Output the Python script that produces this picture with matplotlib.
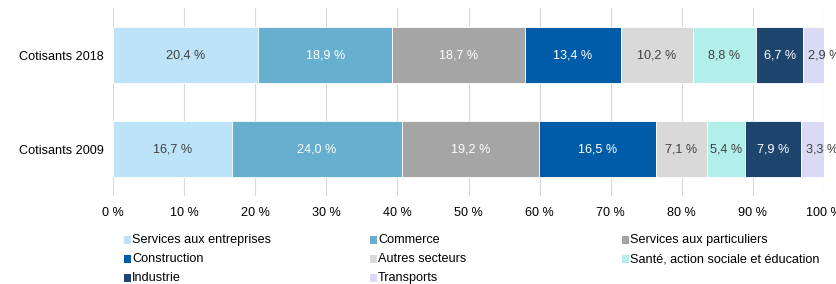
import matplotlib
matplotlib.use("Agg")
import matplotlib.pyplot as plt
from matplotlib.patches import Rectangle

plt.rcParams['font.family'] = ['Liberation Sans', 'DejaVu Sans']

categories = ["Cotisants 2018", "Cotisants 2009"]
sectors = ["Services aux entreprises", "Commerce", "Services aux particuliers",
           "Construction", "Autres secteurs", "Santé, action sociale et éducation",
           "Industrie", "Transports"]
values_2018 = [20.4, 18.9, 18.7, 13.4, 10.2, 8.8, 6.7, 2.9]
values_2009 = [16.7, 24.0, 19.2, 16.5, 7.1, 5.4, 7.9, 3.3]
xticks = [0, 10, 20, 30, 40, 50, 60, 70, 80, 90, 100]

colors = ["#BDE3F8", "#67AFCE", "#A5A5A5", "#005CA8", "#D9D9D9", "#B2EFEB", "#1D456D", "#DADAF5"]
text_colors = ["#404040", "white", "white", "white", "#404040", "#404040", "white", "#404040"]

FS = 9.1

fig = plt.figure(figsize=(8.37, 2.84), dpi=100)
ax = fig.add_axes([113/837, 1-196/284, (824-113)/837, 188/284])

data = [values_2018, values_2009]
ypos = [0, 1]
for yi, vals in zip(ypos, data):
    left = 0
    for i, v in enumerate(vals):
        ax.barh(yi, v, left=left, height=0.6, color=colors[i], edgecolor="white", linewidth=0.6, zorder=3)
        lab = f"{v:.1f}".replace(".", ",") + " %"
        if v < 4:
            ax.text(left + 0.7, yi, lab, ha="left", va="center", fontsize=FS,
                    color=text_colors[i], zorder=4, clip_on=False)
        else:
            ax.text(left + v / 2, yi, lab, ha="center", va="center", fontsize=FS,
                    color=text_colors[i], zorder=4)
        left += v

ax.set_ylim(1.5, -0.5)
ax.set_xlim(0, 100)
ax.set_yticks(ypos)
ax.set_yticklabels(categories, fontsize=FS, color="#000000")
ax.set_xticks(xticks)
ax.set_xticklabels([f"{t} %" for t in xticks], fontsize=FS, color="#000000")
ax.tick_params(axis="x", length=0, pad=8)
ax.tick_params(axis="y", length=0, pad=6.5)
ax.xaxis.grid(True, color="#D9D9D9", linewidth=0.8, zorder=0)
ax.set_axisbelow(True)
for s in ax.spines.values():
    s.set_visible(False)

# legend (row-major layout)
col_x = [124, 370, 622]
row_y = [240, 259, 278]
W, H = 837, 284
for k, name in enumerate(sectors):
    r, c = divmod(k, 3)
    x, y = col_x[c], row_y[r]
    fig.patches.append(Rectangle((x / W, 1 - (y + 4) / H), 7 / W, 8 / H,
                                 transform=fig.transFigure, facecolor=colors[k],
                                 edgecolor="none"))
    fig.text((x + 8) / W, 1 - y / H, name, ha="left", va="center", fontsize=FS, color="#000000")

fig.savefig("out.png", dpi=100)
